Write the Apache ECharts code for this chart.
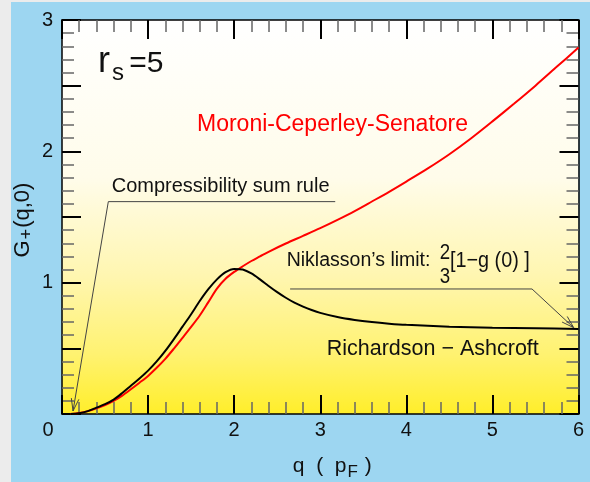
<!DOCTYPE html>
<html>
<head>
<meta charset="utf-8">
<script src="https://cdn.jsdelivr.net/npm/echarts@6/dist/echarts.min.js"></script>
<style>
  html, body { margin: 0; padding: 0; width: 590px; height: 482px; overflow: hidden; background: #ececec; }
  #chart { position: absolute; left: 11px; top: 2px; width: 579px; height: 480px; background: #9dd6f1; }
</style>
</head>
<body>
<div id="chart"></div>
<script>
const FONT = '"Liberation Sans", Arial, Helvetica, sans-serif';

// Local field factor G+(q,0) for r_s = 5, q in units of p_F
// Richardson-Ashcroft
const qRA = [0.10, 0.20, 0.30, 0.40, 0.50, 0.60, 0.70, 0.80, 0.90, 1.00, 1.10, 1.20, 1.30, 1.40, 1.50, 1.60, 1.70, 1.80, 1.90, 2.00,
             2.10, 2.20, 2.30, 2.40, 2.50, 2.60, 2.70, 2.80, 2.90, 3.00, 3.20, 3.40, 3.60, 3.80, 4.00, 4.50, 5.00, 5.50, 6.00];
const gRA = [0.000, 0.006, 0.022, 0.048, 0.075, 0.110, 0.160, 0.215, 0.270, 0.330, 0.400, 0.480, 0.570, 0.665, 0.760, 0.860, 0.950, 1.025, 1.080, 1.105,
             1.100, 1.070, 1.025, 0.975, 0.928, 0.885, 0.848, 0.818, 0.792, 0.770, 0.738, 0.716, 0.700, 0.688, 0.679, 0.665, 0.657, 0.652, 0.648];

// Moroni-Ceperley-Senatore
const qMCS = [0.10, 0.20, 0.30, 0.40, 0.50, 0.60, 0.70, 0.80, 0.90, 1.00, 1.10, 1.20, 1.30, 1.40, 1.50, 1.60, 1.70, 1.80, 1.90, 2.00,
              2.10, 2.20, 2.30, 2.40, 2.60, 2.80, 3.00, 3.20, 3.40, 3.60, 3.80, 4.00, 4.25, 4.50, 4.75, 5.00, 5.25, 5.50, 5.75, 6.00];
const gMCS = [0.000, 0.008, 0.022, 0.043, 0.068, 0.100, 0.140, 0.188, 0.238, 0.290, 0.352, 0.420, 0.498, 0.580, 0.663, 0.750, 0.852, 0.955, 1.030, 1.082,
              1.125, 1.165, 1.200, 1.235, 1.298, 1.356, 1.415, 1.478, 1.545, 1.618, 1.692, 1.770, 1.870, 1.978, 2.098, 2.228, 2.362, 2.500, 2.645, 2.790];

const xRange = [0, 6];
const yRange = [0, 3];

// Leader lines for the annotations, in data coordinates (arrow at the last point)
const compressLeader = [[3.174, 1.617], [0.538, 1.617], [0.128, 0.023]];
const niklassonLeader = [[2.65, 0.952], [5.46, 0.952], [5.945, 0.657]];

const chart = echarts.init(document.getElementById('chart'), null, { renderer: 'canvas' });

const tickStyle = { show: true, inside: true, length: 19, lineStyle: { color: '#000', width: 2 } };
const minorStyle = { show: true, splitNumber: 5, length: 12, lineStyle: { color: '#666', width: 1.5 } };
const lineStyle = { show: true, onZero: false, lineStyle: { color: '#000', width: 1.5 } };

const gridBg = new echarts.graphic.LinearGradient(0, 0, 0, 1, [
  { offset: 0.00, color: '#ffffff' },
  { offset: 0.40, color: '#fffcea' },
  { offset: 0.65, color: '#fff6b0' },
  { offset: 0.85, color: '#fff270' },
  { offset: 1.00, color: '#ffee2a' }
]);

chart.setOption({
  animation: false,
  grid: {
    left: 51, top: 18, right: 11.5, bottom: 68, outerBoundsMode: 'none', containLabel: false,
    show: true, backgroundColor: gridBg, borderWidth: 0
  },
  xAxis: [
    {
      type: 'value', position: 'bottom', min: xRange[0], max: xRange[1], interval: 1,
      axisLine: lineStyle, axisTick: tickStyle, minorTick: minorStyle, splitLine: { show: false },
      axisLabel: {
        fontFamily: FONT, fontSize: 20, color: '#111', margin: 6,
        formatter: v => v === 0 ? '{z|0}' : String(v),
        rich: { z: { fontFamily: FONT, fontSize: 20, color: '#111', padding: [0, 28, 0, 0] } }
      },
      name: '{a|q  (  p}{s|F}{a| )}', nameLocation: 'middle', nameGap: 38,
      nameTextStyle: {
        padding: [0, 0, 0, 24],
        rich: {
          a: { fontFamily: FONT, fontSize: 21, color: '#111' },
          s: { fontFamily: FONT, fontSize: 17, color: '#111', padding: [12, 1, 0, 1] }
        }
      }
    },
    {
      type: 'value', position: 'top', min: xRange[0], max: xRange[1], interval: 1,
      axisLine: lineStyle, axisTick: tickStyle, minorTick: minorStyle, splitLine: { show: false },
      axisLabel: { show: false }
    }
  ],
  yAxis: [
    {
      type: 'value', position: 'left', min: yRange[0], max: yRange[1], interval: 0.5,
      axisLine: lineStyle, axisTick: tickStyle, minorTick: minorStyle, splitLine: { show: false },
      axisLabel: {
        fontFamily: FONT, fontSize: 20, color: '#111', margin: 9,
        formatter: v => (Number.isInteger(v) && v !== 0) ? String(v) : ''
      },
      name: '{a|G}{s|+}{a|(q,0)}', nameLocation: 'middle', nameGap: 26, nameRotate: 90,
      nameMoveOverlap: false,
      nameTextStyle: {
        padding: [0, 6, 0, 0],
        rich: {
          a: { fontFamily: FONT, fontSize: 22, color: '#111' },
          s: { fontFamily: FONT, fontSize: 18, color: '#111', padding: [9, 1, 0, 1] }
        }
      }
    },
    {
      type: 'value', position: 'right', min: yRange[0], max: yRange[1], interval: 0.5,
      axisLine: lineStyle, axisTick: tickStyle, minorTick: minorStyle, splitLine: { show: false },
      axisLabel: { show: false }
    }
  ],
  series: [
    {
      name: 'Moroni-Ceperley-Senatore', type: 'line', xAxisIndex: 0, yAxisIndex: 0,
      data: qMCS.map((q, i) => [q, gMCS[i]]),
      smooth: 0.3, showSymbol: false, lineStyle: { color: '#ff0000', width: 2 }, z: 3
    },
    {
      name: 'Richardson-Ashcroft', type: 'line', xAxisIndex: 0, yAxisIndex: 0,
      data: qRA.map((q, i) => [q, gRA[i]]),
      smooth: 0.3, showSymbol: false, lineStyle: { color: '#000000', width: 2 }, z: 4
    }
  ]
});

// Annotation texts and leader arrows
function leader(points, color) {
  const px = points.map(p => chart.convertToPixel({ gridIndex: 0 }, p));
  const tip = px[px.length - 1];
  const prev = px[px.length - 2];
  const dx = tip[0] - prev[0], dy = tip[1] - prev[1];
  const len = Math.hypot(dx, dy);
  const ux = dx / len, uy = dy / len;
  const L = 13, th = 17 * Math.PI / 180;
  const wing = s => [
    tip[0] - L * (ux * Math.cos(th) - s * uy * Math.sin(th)),
    tip[1] - L * (uy * Math.cos(th) + s * ux * Math.sin(th))
  ];
  return [
    { type: 'polyline', shape: { points: px }, style: { stroke: color, lineWidth: 1, fill: null }, z: 10 },
    { type: 'polyline', shape: { points: [wing(1), tip, wing(-1)] }, style: { stroke: color, lineWidth: 1, fill: null }, z: 10 }
  ];
}

function label(text, x, y, size, color, align, scaleX) {
  return {
    type: 'text', x: x, y: y, z: 12, scaleX: scaleX || 1,
    style: { text: text, fontFamily: FONT, fontSize: size, fill: color || '#111', verticalAlign: 'middle', align: align || 'left' }
  };
}

chart.setOption({
  graphic: [
    ...leader(compressLeader, '#444'),
    ...leader(niklassonLeader, '#444'),
    label('r', 87, 60, 36),
    label('s', 101, 71, 24),
    label(' =5', 110, 62, 30),
    label('Moroni-Ceperley-Senatore', 186, 123, 23, '#ff0000'),
    label('Compressibility sum rule', 100.7, 184, 20),
    label('Niklasson\u2019s limit:', 275.7, 258.7, 19.5),
    label('2', 434, 251, 22, '#111', 'center', 0.85),
    label('3', 434, 275, 22, '#111', 'center', 0.85),
    label('[1\u2212g (0) ]', 439, 259, 22, '#111', 'left', 0.9),
    label('Richardson \u2212 Ashcroft', 315.7, 347, 21.5)
  ]
});
</script>
</body>
</html>
